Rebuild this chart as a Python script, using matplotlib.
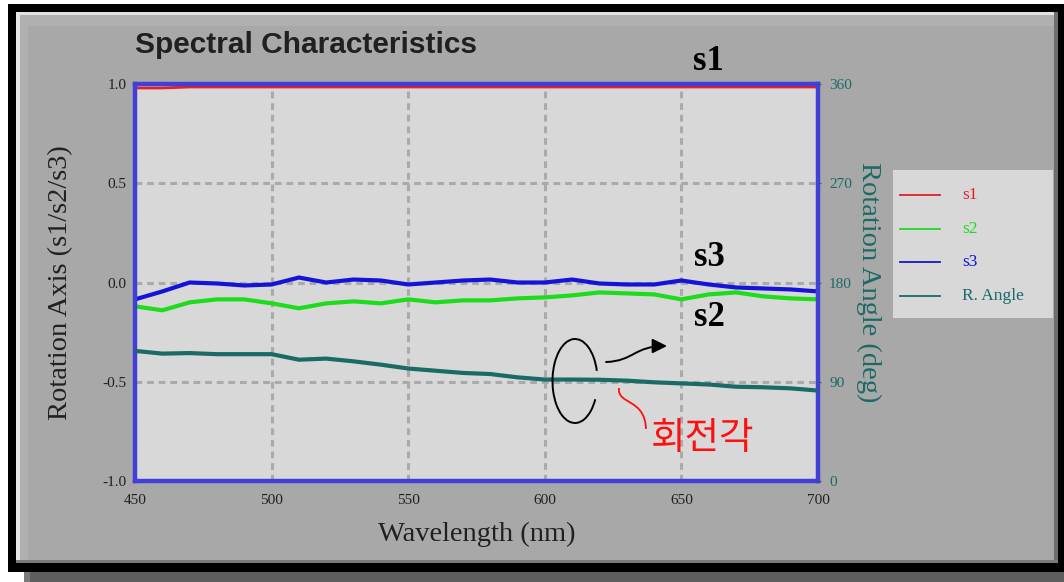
import matplotlib
matplotlib.use("Agg")
import matplotlib.pyplot as plt
from matplotlib.lines import Line2D
from matplotlib.patches import Rectangle, Arc, FancyArrowPatch, PathPatch
from matplotlib.path import Path
from matplotlib.transforms import Affine2D

# --- data (sampled every 10 nm) ---
wavelength = [450, 460, 470, 480, 490, 500, 510, 520, 530, 540, 550, 560, 570,
              580, 590, 600, 610, 620, 630, 640, 650, 660, 670, 680, 690, 700]
s1 = [0.98, 0.98, 0.985, 0.985, 0.985, 0.985, 0.985, 0.985, 0.985, 0.985, 0.985, 0.985, 0.985,
      0.985, 0.985, 0.985, 0.985, 0.985, 0.985, 0.985, 0.985, 0.985, 0.985, 0.985, 0.985, 0.985]
s2 = [-0.12, -0.14, -0.10, -0.085, -0.085, -0.105, -0.13, -0.105, -0.095, -0.105, -0.085, -0.10, -0.09,
      -0.09, -0.08, -0.075, -0.065, -0.05, -0.055, -0.06, -0.085, -0.06, -0.05, -0.07, -0.08, -0.085]
s3 = [-0.085, -0.045, 0.0, -0.005, -0.015, -0.01, 0.025, 0.0, 0.015, 0.01, -0.01, 0.0, 0.01,
      0.015, 0.0, 0.0, 0.015, -0.005, -0.01, -0.01, 0.01, -0.01, -0.025, -0.03, -0.035, -0.045]
r_angle = [118, 115.5, 116, 115, 115, 115, 110, 111, 108.5, 105.5, 102, 100, 98,
           97, 94, 92, 92, 91.8, 91, 89.5, 88.5, 87.5, 85.5, 85, 84, 82]

x_ticks = [450, 500, 550, 600, 650, 700]
left_ticks = [-1.0, -0.5, 0.0, 0.5, 1.0]
right_ticks = [0, 90, 180, 270, 360]

RED = "#e0202a"
GREEN = "#1cdc1c"
BLUE = "#1414d8"
TEAL = "#1a6a66"
FRAME_BLUE = "#4040d8"
SERIF = "Liberation Serif"

W, H = 1064, 582
fig = plt.figure(figsize=(W / 100, H / 100), dpi=100)
fig.patch.set_facecolor("white")

# pixel coordinates with origin at the top-left corner
pix = Affine2D().scale(1 / W, -1 / H).translate(0, 1) + fig.transFigure


def box(x0, y0, x1, y1, color, z=0):
    fig.add_artist(Rectangle((x0, y1), x1 - x0, y0 - y1, transform=pix,
                             facecolor=color, edgecolor="none", zorder=z))


# window frame: shadow, black border, bevelled grey panel
box(24, 566, W, H, "#7a7a7a", -10)
box(30, 572, W, H, "#5e5e5e", -10)
box(8, 4, W, 572, "black", -9)
box(16, 12, 1058, 563, "#b0b0b0", -8)
box(16, 12, 1058, 15, "#e2e2e2", -7)
box(16, 12, 20, 563, "#e8e8e8", -7)
box(1054, 12, 1058, 563, "#6e6e6e", -7)
box(16, 560, 1058, 563, "#7a7a7a", -7)
box(28, 26, 1054, 560, "#a8a8a8", -7)

ax = fig.add_axes([135 / W, 1 - 481 / H, 683 / W, 397 / H])
ax.set_facecolor("#d8d8d8")
ax.set_xlim(450, 700)
ax.set_ylim(-1.0, 1.0)
ax.set_xticks(x_ticks)
ax.set_yticks(left_ticks)
ax.set_yticklabels([f"{v:.1f}" for v in left_ticks])
ax.tick_params(length=0, labelsize=11, colors="#202020", pad=6)
ax.tick_params(axis="x", pad=9)
for lbl in ax.get_xticklabels() + ax.get_yticklabels():
    lbl.set_family(SERIF)
for sp in ax.spines.values():
    sp.set_color(FRAME_BLUE)
    sp.set_linewidth(3.2)
    sp.set_zorder(5)
ax.grid(True, color="#aaaaaa", linestyle=(0, (2.2, 1.6)), linewidth=2.2)
ax.set_axisbelow(True)

ax.plot(wavelength, s1, color=RED, lw=2, zorder=3)
ax.plot(wavelength, s2, color=GREEN, lw=3, zorder=3)
ax.plot(wavelength, s3, color=BLUE, lw=3, zorder=3)

ax2 = ax.twinx()
ax2.set_ylim(0, 360)
ax2.set_yticks(right_ticks)
ax2.tick_params(length=2, labelsize=11, colors=TEAL, pad=6)
for lbl in ax2.get_yticklabels():
    lbl.set_family(SERIF)
for sp in ax2.spines.values():
    sp.set_visible(False)
ax2.plot(wavelength, r_angle, color=TEAL, lw=3, zorder=3)

ax.set_xlabel("Wavelength (nm)", family=SERIF, fontsize=20.5, color="#202020", labelpad=11)
ax.set_ylabel("Rotation Axis (s1/s2/s3)", family=SERIF, fontsize=20.5, color="#202020", labelpad=21)
ax2.set_ylabel("Rotation Angle (deg)", family=SERIF, fontsize=20.5, color=TEAL,
               rotation=270, labelpad=21)

fig.text(135 / W, 1 - 45 / H, "Spectral Characteristics", family="Liberation Sans",
         fontweight="bold", fontsize=21.5, color="#202020", va="center", ha="left")

# series tags next to the curves
for label, (tx, ty) in {"s1": (708, 62), "s3": (709, 258), "s2": (709, 317)}.items():
    fig.text(tx / W, 1 - ty / H, label, family=SERIF, fontweight="bold",
             fontsize=25, ha="center", va="center", color="black", zorder=10)

# legend panel
box(893, 170, 1053, 318, "#d8d8d8", 1)
legend_items = [("s1", RED), ("s2", GREEN), ("s3", BLUE), ("R. Angle", TEAL)]
for i, (name, col) in enumerate(legend_items):
    ly = 195 + i * 33.7
    fig.add_artist(Line2D([900, 940], [ly, ly], transform=pix, color=col, lw=1.3, zorder=2))
    fig.text(962 / W, 1 - ly / H, name, family=SERIF, fontsize=12.5, color=col,
             va="center", ha="left", zorder=2)

# rotation sketch: open loop and curved arrow
fig.add_artist(Arc((575, 381), 45, 84, theta1=42, theta2=335, transform=pix,
                   color="black", lw=1.4, zorder=10))
arrow_path = Path([(606, 362), (634, 361), (634, 346), (667, 346)],
                  [Path.MOVETO, Path.CURVE4, Path.CURVE4, Path.CURVE4])
fig.add_artist(FancyArrowPatch(path=arrow_path, transform=pix, arrowstyle="-|>",
                               mutation_scale=22, color="black", lw=1.4, zorder=10))

# callout for the rotation angle curve
callout = Path([(619, 388), (617, 405), (645, 398), (646, 429)],
               [Path.MOVETO, Path.CURVE4, Path.CURVE4, Path.CURVE4])
fig.add_artist(PathPatch(callout, transform=pix, facecolor="none", edgecolor="#ff1010",
                         lw=1.3, zorder=10))
fig.text(703 / W, 1 - 439 / H, "회전각", family=["Noto Sans CJK KR", "DejaVu Sans"],
         fontsize=27, color="#ff1010", ha="center", va="center", zorder=10)

fig.savefig("out.png", dpi=100)
